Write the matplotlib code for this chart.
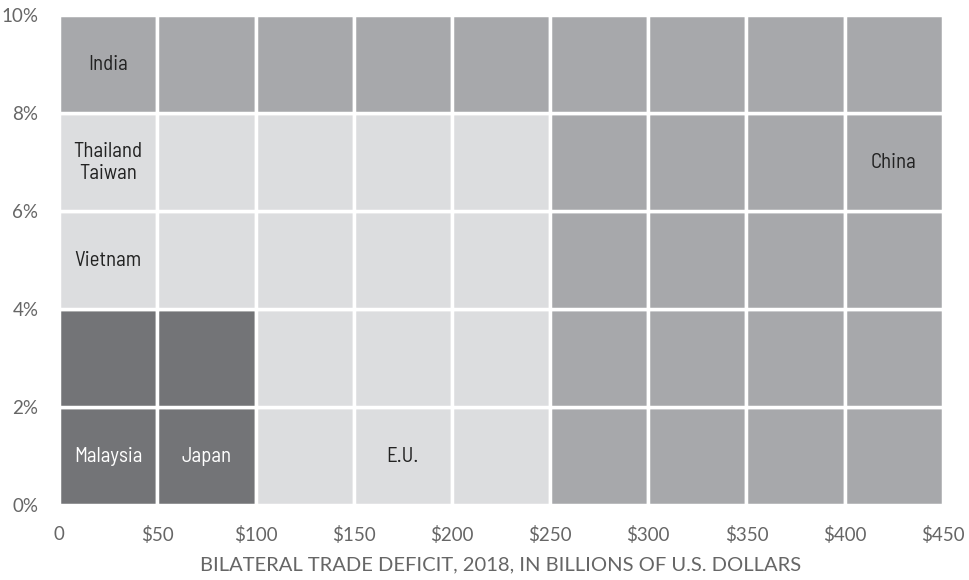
import numpy as np
import matplotlib
matplotlib.use("Agg")
from matplotlib import pyplot as plt

plt.rcParams['font.family'] = ['Barlow Semi Condensed', 'Lato', 'DejaVu Sans']
tick_family = ['Lato', 'DejaVu Sans']

# grid of cells: 9 columns of $50bn, 5 rows of 2 percentage points (bottom row first)
cell_w = 50
cell_h = 2
cell_groups = [
    ["dark", "dark", "light", "light", "light", "mid", "mid", "mid", "mid"],
    ["dark", "dark", "light", "light", "light", "mid", "mid", "mid", "mid"],
    ["light", "light", "light", "light", "light", "mid", "mid", "mid", "mid"],
    ["light", "light", "light", "light", "light", "mid", "mid", "mid", "mid"],
    ["mid", "mid", "mid", "mid", "mid", "mid", "mid", "mid", "mid"],
]
group_colors = {"dark": "#737477", "mid": "#a7a8ab", "light": "#dcdddf"}
label_colors = {"dark": "white", "mid": "#222222", "light": "#222222"}

labels = ["India", "Thailand\nTaiwan", "Vietnam", "Malaysia", "Japan", "E.U.", "China"]
label_x = [25, 25, 25, 25, 75, 175, 425]
label_y = [9, 7, 5, 1, 1, 1, 7]

x_ticks = [0, 50, 100, 150, 200, 250, 300, 350, 400, 450]
x_ticklabels = ["0"] + ["$%d" % v for v in x_ticks[1:]]
y_ticks = [0, 2, 4, 6, 8, 10]
y_ticklabels = ["%d%%" % v for v in y_ticks]

fig = plt.figure(figsize=(9.7, 5.8), dpi=100)
ax = fig.add_axes([0.061, 0.129, 0.911, 0.845])

for r, row in enumerate(cell_groups):
    for c, g in enumerate(row):
        ax.bar(c * cell_w, cell_h, width=cell_w, bottom=r * cell_h, align="edge",
               color=group_colors[g], edgecolor="white", linewidth=2.5)

for lab, lx, ly in zip(labels, label_x, label_y):
    col = min(int(lx // cell_w), 8)
    row = min(int(ly // cell_h), 4)
    g = cell_groups[row][col]
    ax.text(lx, ly, lab, ha="center", va="center", fontsize=15,
            color=label_colors[g], linespacing=1.2)

ax.set_xlim(0, 450)
ax.set_ylim(0, 10)
ax.set_xticks(x_ticks)
ax.set_xticklabels(x_ticklabels)
ax.set_yticks(y_ticks)
ax.set_yticklabels(y_ticklabels)
ax.tick_params(length=0, labelsize=13.5, labelcolor="#666666")
ax.tick_params(axis="x", pad=15)
ax.tick_params(axis="y", pad=15)
for lbl in ax.get_xticklabels() + ax.get_yticklabels():
    lbl.set_family(tick_family)
for s in ax.spines.values():
    s.set_visible(False)
ax.set_xlabel("BILATERAL TRADE DEFICIT, 2018, IN BILLIONS OF U.S. DOLLARS",
              fontsize=14.5, family=tick_family,
              color="#666666", labelpad=9)

fig.savefig("out.png", dpi=100)
